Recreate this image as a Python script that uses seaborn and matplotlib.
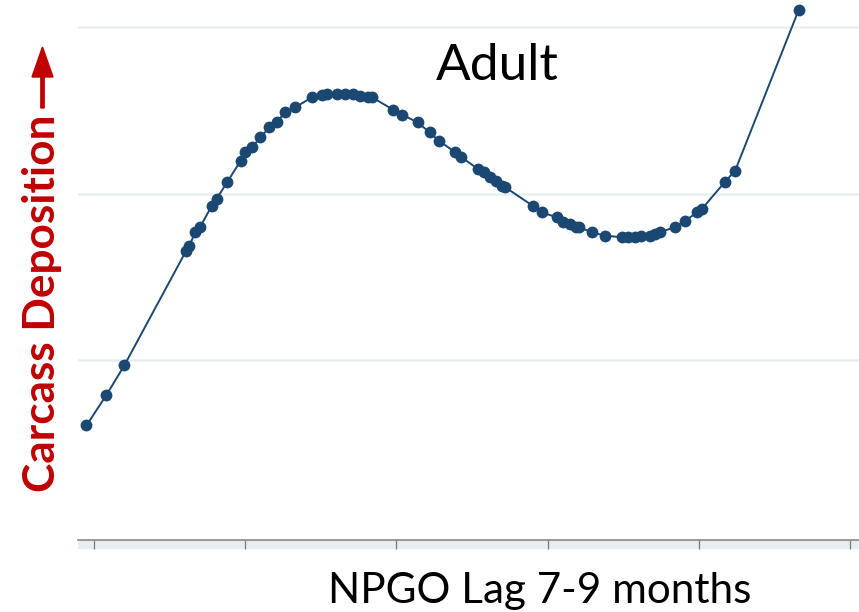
import matplotlib
matplotlib.use("Agg")
import matplotlib.pyplot as plt
from matplotlib.patches import Rectangle, FancyArrow
from matplotlib.transforms import IdentityTransform
import seaborn as sns
import pandas as pd

# NPGO (lag 7-9 months) values and predicted carcass deposition
npgo = [-2.05, -1.92, -1.80, -1.39, -1.37, -1.33, -1.30, -1.22, -1.19, -1.12,
        -1.03, -1.00, -0.955, -0.90, -0.84, -0.79, -0.74, -0.67, -0.56, -0.49,
        -0.46, -0.39, -0.34, -0.29, -0.24, -0.19, -0.16, -0.02, 0.04, 0.14,
        0.22, 0.28, 0.39, 0.43, 0.54, 0.58, 0.62, 0.66, 0.70, 0.72,
        0.90, 0.96, 1.06, 1.10, 1.15, 1.19, 1.21, 1.29, 1.38, 1.49,
        1.53, 1.58, 1.62, 1.68, 1.71, 1.74, 1.84, 1.91, 1.99, 2.02,
        2.17, 2.24, 2.66]
deposition = [0.61, 0.79, 0.97, 1.66, 1.69, 1.77, 1.80, 1.93, 1.97, 2.07,
              2.20, 2.25, 2.28, 2.34, 2.40, 2.43, 2.49, 2.52, 2.58, 2.595,
              2.60, 2.60, 2.60, 2.60, 2.59, 2.585, 2.58, 2.505, 2.475, 2.43,
              2.37, 2.32, 2.25, 2.22, 2.15, 2.13, 2.10, 2.08, 2.05, 2.04,
              1.93, 1.89, 1.86, 1.83, 1.82, 1.80, 1.80, 1.77, 1.75, 1.74,
              1.74, 1.74, 1.75, 1.75, 1.76, 1.77, 1.80, 1.84, 1.89, 1.91,
              2.07, 2.14, 3.105]
x_ticks = [-2, -1, 0, 1, 2, 3]
y_ticks = [1, 2, 3]

title_text = "Adult"
x_label = "NPGO Lag 7-9 months"
y_label = "Carcass Deposition"

df = pd.DataFrame({"npgo": npgo, "dep": deposition})

sns.set_theme(style="white")
plt.rcParams["font.family"] = ["Lato", "DejaVu Sans"]

W, H = 859, 612
fig = plt.figure(figsize=(W / 100, H / 100), dpi=100)
ax = fig.add_axes([78 / W, 1 - 540 / H, 1 - 78 / W, 540 / H])

line_col = "#1b4873"
sns.lineplot(data=df, x="npgo", y="dep", ax=ax, estimator=None, sort=False,
             color=line_col, linewidth=1.4, marker="o", markersize=8.5,
             markeredgewidth=0, markerfacecolor=line_col, zorder=3)

ax.set_xlim(-2.106, 3.059)
ax.set_ylim(-0.078, 3.165)
ax.set_xticks(x_ticks)
ax.set_yticks(y_ticks)
ax.set_xticklabels([])
ax.set_yticklabels([])
ax.set_xlabel("")
ax.set_ylabel("")
ax.grid(axis="y", color="#e8eef0", linewidth=1.8)
ax.grid(axis="x", visible=False)
ax.set_axisbelow(True)
for s in ["left", "right", "top"]:
    ax.spines[s].set_visible(False)
ax.spines["bottom"].set_color("#8a8a8a")
ax.spines["bottom"].set_linewidth(1.2)
ax.spines["bottom"].set_zorder(5)
ax.tick_params(axis="x", direction="out", length=6.5, width=0.9,
               color="#7a7a7a", bottom=True, pad=0)
ax.tick_params(axis="y", left=False, length=0)

# light band under the axis line
ax.add_patch(Rectangle((0, -9 / 540), 1, 9 / 540, transform=ax.transAxes,
                       facecolor="#e6eef2", edgecolor="none", clip_on=False,
                       zorder=0))

fig.text(497.5 / W, 1 - 80 / H, title_text, ha="center", va="baseline",
         fontsize=37, color="black")
fig.text(539.5 / W, 1 - 603 / H, x_label, ha="center", va="baseline",
         fontsize=30.4, color="black")
fig.text(55 / W, 1 - 492 / H, y_label, rotation=90, rotation_mode="anchor",
         ha="left", va="baseline", fontsize=31.8, fontweight="bold",
         color="#c00000")
fig.add_artist(FancyArrow(42.5, H - 108, 0, 61, width=3.3, head_width=21,
                          head_length=30, length_includes_head=True,
                          color="#c00000", transform=IdentityTransform()))

fig.savefig("out.png", dpi=100)
